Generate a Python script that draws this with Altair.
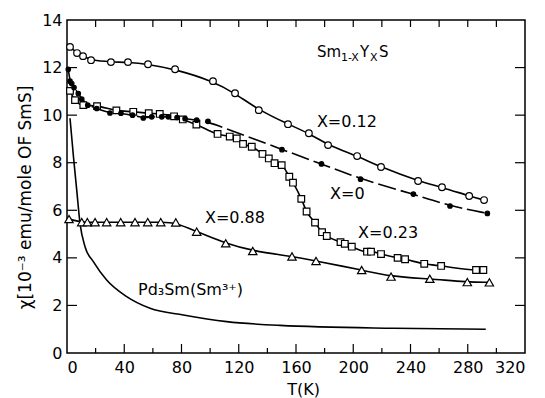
import altair as alt
import pandas as pd

# Sm(1-x)Y(x)S susceptibility vs temperature
# x = 0.12 (open circles)
t_012 = [2.1, 7.0, 11.2, 16.8, 30.7, 42.6, 56.6, 75.5, 102, 117.4, 134, 154.4,
         169, 182.4, 202.7, 219.4, 245.3, 262, 281, 291.4]
c_012 = [12.87, 12.61, 12.48, 12.31, 12.23, 12.23, 12.14, 11.93, 11.43, 10.92,
         10.21, 9.62, 9.24, 8.74, 8.28, 7.82, 7.23, 6.97, 6.6, 6.43]

# x = 0 (filled dots)
t_0 = [0.9, 2.1, 3.3, 4.9, 7.9, 10.3, 14.5, 20.8, 30, 37.7, 45.8, 53.3, 59.2,
       66.2, 70.8, 76.9, 82.5, 90.6, 98.5, 150.2, 177.8, 205.1, 242, 267.6, 293.7]
c_0 = [11.93, 11.43, 11.33, 11.16, 10.91, 10.67, 10.42, 10.28, 10.09, 10.08,
       10.0, 9.88, 9.93, 9.93, 9.93, 9.9, 9.85, 9.79, 9.74, 8.55, 7.95, 7.31,
       6.68, 6.18, 5.87]

# x = 0.23 (open squares)
t_023 = [2.1, 5.6, 11.4, 21.0, 34.5, 46.3, 57.1, 64.8, 74.8, 80.9, 90.4, 105.2,
         113.7, 118.6, 123.0, 129.1, 136.6, 141.0, 145.0, 150.0, 155.3, 157.9,
         163.7, 167.4, 173.3, 178.2, 181.5, 191.1, 194.1, 199.0, 209.6, 212.4,
         219.4, 231.0, 236.2, 249.6, 261.4, 285.8, 290.9]
c_023 = [11.02, 10.63, 10.42, 10.38, 10.20, 10.14, 10.08, 10.05, 9.95, 9.82,
         9.60, 9.21, 9.10, 9.02, 8.79, 8.67, 8.37, 8.18, 7.98, 7.90, 7.41, 7.16,
         6.48, 5.95, 5.48, 5.08, 4.92, 4.66, 4.59, 4.47, 4.26, 4.26, 4.16, 4.00,
         3.94, 3.75, 3.66, 3.49, 3.49]

# x = 0.88 (open triangles)
t_088 = [1.4, 10.3, 14.2, 19.6, 27.7, 37.5, 47.5, 56.4, 65.5, 76, 90.6, 110.9,
         129.8, 157.2, 174, 205.9, 226.4, 253.5, 279.7, 295.1]
c_088 = [5.63, 5.5, 5.5, 5.5, 5.5, 5.5, 5.5, 5.5, 5.5, 5.49, 5.10, 4.61, 4.29,
         4.06, 3.87, 3.49, 3.21, 3.12, 2.98, 2.97]

# Pd3Sm reference curve (Sm3+)
t_pd = [2.1, 4.6, 6.8, 9.1, 12.6, 18.4, 27.7, 41.7, 58, 81.3, 111.6, 148.8, 228, 292.6]
c_pd = [9.87, 8.2, 6.85, 5.45, 4.47, 3.84, 3.07, 2.37, 1.88, 1.60, 1.32, 1.16, 1.04, 1.0]

x_labels = [0, 40, 80, 120, 160, 200, 240, 280, 320]
x_minor = [20, 60, 100, 140, 180, 220, 260, 300]
y_labels = [0, 2, 4, 6, 8, 10, 12, 14]
y_inner = [2, 4, 6, 8, 10, 12]

W, H = 458, 333
FONT = "DejaVu Sans"

xscale = alt.Scale(domain=[0, 320], nice=False, zero=False)
yscale = alt.Scale(domain=[0, 14], nice=False, zero=False)
X = alt.X("T:Q", scale=xscale,
          axis=alt.Axis(values=x_labels, title="T(K)", labelPadding=6,
                        titleX=236, titleY=28, titleFontSize=16))
Y = alt.Y("chi:Q", scale=yscale,
          axis=alt.Axis(values=y_labels, title="χ[10⁻³ emu/mole OF SmS]",
                        labelPadding=5, titleX=-42, titleY=177,
                        titleBaseline="middle", titleAngle=270,
                        titleFontSize=17))


def frame(t, c):
    return pd.DataFrame({"T": t, "chi": c})


def curve(t, c, interp="basis", dash=None):
    kw = dict(color="black", strokeWidth=1.6, interpolate=interp)
    if dash:
        kw["strokeDash"] = dash
    return alt.Chart(frame(t, c)).mark_line(**kw).encode(x=X, y=Y)


def marks(t, c, shape, size, filled=False):
    kw = dict(shape=shape, size=size, stroke="black", strokeWidth=1.2, opacity=1)
    if filled:
        kw.update(fill="black", filled=True)
    else:
        kw.update(fill="white", filled=True, strokeOpacity=1)
    return alt.Chart(frame(t, c)).mark_point(**kw).encode(x=X, y=Y)


def text(t, c, s, size=16, dx=0, dy=0, baseline="middle"):
    df = pd.DataFrame({"T": [t], "chi": [c], "label": [s]})
    return alt.Chart(df).mark_text(
        align="left", baseline=baseline, font=FONT, fontSize=size,
        color="black", dx=dx, dy=dy
    ).encode(x=X, y=Y, text="label:N")


def tick_rules():
    bx = pd.DataFrame({"T": x_labels[1:-1]})
    mx = pd.DataFrame({"T": x_minor})
    iy = pd.DataFrame({"chi": y_inner})
    rule = dict(color="black", strokeWidth=1.2)
    return [
        alt.Chart(bx).mark_rule(**rule).encode(x=X, y=alt.value(H), y2=alt.value(H - 9)),
        alt.Chart(mx).mark_rule(**rule).encode(x=X, y=alt.value(H), y2=alt.value(H - 5)),
        alt.Chart(bx).mark_rule(**rule).encode(x=X, y=alt.value(0), y2=alt.value(7)),
        alt.Chart(mx).mark_rule(**rule).encode(x=X, y=alt.value(0), y2=alt.value(7)),
        alt.Chart(iy).mark_rule(**rule).encode(y=Y, x=alt.value(0), x2=alt.value(10)),
        alt.Chart(iy).mark_rule(**rule).encode(y=Y, x=alt.value(W), x2=alt.value(W - 10)),
    ]


layers = tick_rules() + [
    curve(t_pd, c_pd, interp="monotone"),
    curve(t_012, c_012),
    curve(t_0, c_0, dash=[18, 5]),
    curve(t_023, c_023, interp="monotone"),
    curve(t_088, c_088),
    marks(t_012, c_012, "circle", 44),
    marks(t_023, c_023, "square", 44),
    marks(t_0, c_0, "circle", 20, filled=True),
    marks(t_088, c_088, "triangle-up", 70),
    # compound formula label: Sm(1-X) Y(X) S
    text(174.6, 12.44, "Sm", size=15, baseline="alphabetic"),
    text(174.6, 12.44, "1-X", size=11, dx=24, dy=4, baseline="alphabetic"),
    text(174.6, 12.44, "Y", size=15, dx=43, baseline="alphabetic"),
    text(174.6, 12.44, "X", size=11, dx=53, dy=4, baseline="alphabetic"),
    text(174.6, 12.44, "S", size=15, dx=62, baseline="alphabetic"),
    text(174.6, 9.71, "X=0.12"),
    text(183.8, 6.68, "X=0"),
    text(203.4, 5.04, "X=0.23"),
    text(96.4, 5.67, "X=0.88"),
    text(49.6, 2.65, "Pd₃Sm(Sm³⁺)"),
]

chart = alt.layer(*layers).properties(
    width=W, height=H,
    background="white",
    padding={"left": 67, "top": 20, "right": 20, "bottom": 45},
    autosize=alt.AutoSizeParams(type="none"),
).configure_view(
    stroke="black", strokeWidth=1.5
).configure_axis(
    grid=False, ticks=False, domain=False,
    labelFont=FONT, labelFontSize=16, labelColor="black",
    titleFont=FONT, titleFontWeight="normal", titleColor="black",
)

chart.save("out.html", embed_options={"renderer": "svg", "actions": False})
